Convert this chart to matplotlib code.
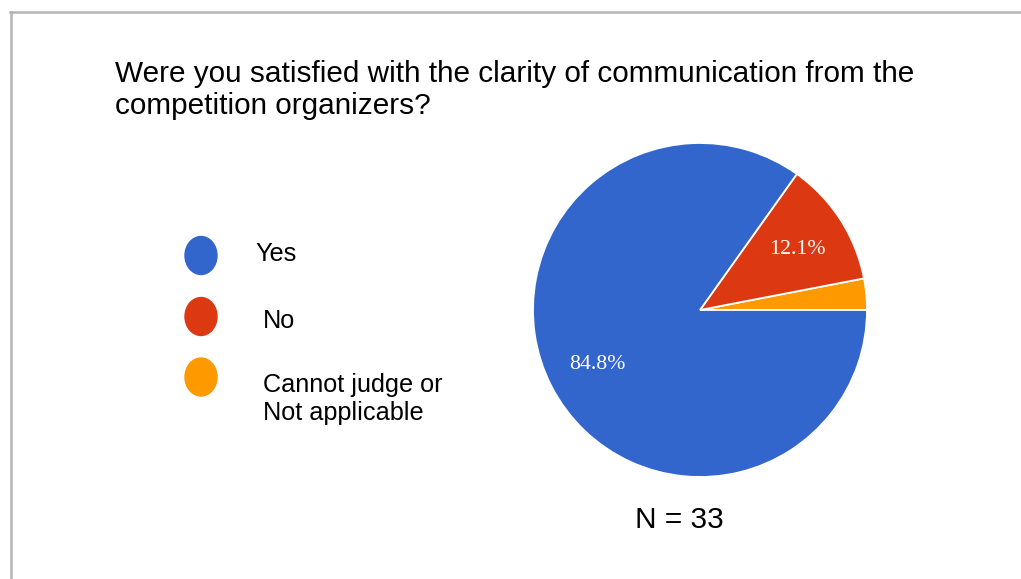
import matplotlib.pyplot as plt
from matplotlib.patches import Ellipse
from matplotlib.lines import Line2D

# Survey answers (counts), N = 33
labels = ['Yes', 'No', 'Cannot judge or\nNot applicable']
counts = [28, 4, 1]
colors = ['#3366CC', '#DC3912', '#FF9900']
title_lines = ['Were you satisfied with the clarity of communication from the',
               'competition organizers?']
n_text = 'N = 33'

W, H = 1021, 579
fig = plt.figure(figsize=(W / 100, H / 100), dpi=100)
fig.patch.set_facecolor('white')

# overlay axes in pixel coords (y down) for text, legend and frame
bg = fig.add_axes([0, 0, 1, 1])
bg.set_xlim(0, W)
bg.set_ylim(H, 0)
bg.axis('off')

# frame lines (left and top)
bg.add_line(Line2D([11, 11], [12, H], color='#b5b5b5', lw=1.8))
bg.add_line(Line2D([10, W], [12, 12], color='#b5b5b5', lw=1.8))

for i, line in enumerate(title_lines):
    bg.text(115, 82 + 32.5 * i, line, fontsize=21.4, family='Liberation Sans',
            color='black', va='baseline', ha='left')

# legend
leg_y = [255.5, 316.5, 377]
text_x = [255, 263, 263]
text_base = [[260.7], [328.3], [391.7, 420]]
for i, lab in enumerate(labels):
    bg.add_patch(Ellipse((201, leg_y[i]), 32, 38, color=colors[i]))
    for part, yb in zip(lab.split('\n'), text_base[i]):
        bg.text(text_x[i], yb, part, fontsize=18.2, family='Liberation Sans',
                va='baseline', ha='left')

bg.text(679, 527.7, n_text, fontsize=21.5, family='Liberation Sans',
        ha='center', va='baseline')

# pie, drawn counter-clockwise from 3 o'clock starting with the smallest slice
cx, cy, r = 700, 310, 167
ax = fig.add_axes([(cx - r) / W, (H - cy - r) / H, 2 * r / W, 2 * r / H])


def pct(p):
    return f'{p:.1f}%' if p > 5 else ''


wedges, texts, autotexts = ax.pie(
    counts[::-1], colors=colors[::-1], startangle=0, counterclock=True,
    autopct=pct, pctdistance=0.69,
    wedgeprops=dict(edgecolor='white', linewidth=1.3),
    textprops=dict(color='white', fontsize=15.7, family='Liberation Serif'))
for t in autotexts:
    x, y = t.get_position()
    t.set_verticalalignment('baseline')
    t.set_position((x, y - 0.04))
ax.set_aspect('equal')
ax.set_xlim(-1.0, 1.0)
ax.set_ylim(-1.0, 1.0)

fig.savefig('out.png', dpi=100, facecolor='white')
